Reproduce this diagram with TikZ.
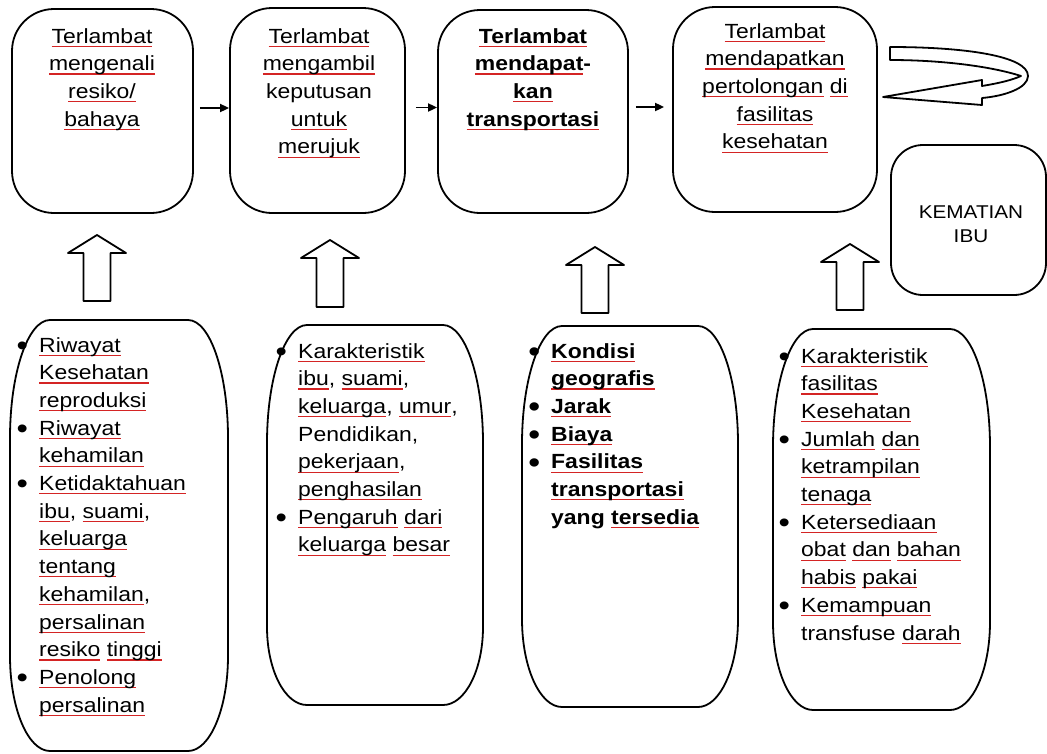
\documentclass[tikz,border=0pt]{standalone}
\usepackage{fontspec}
\setmainfont{Liberation Sans}[FakeStretch=1.12]
\usetikzlibrary{arrows.meta}

\definecolor{squig}{HTML}{D42424}
% word with a thin red underline
\newcommand\sq[1]{\leavevmode\setbox0=\hbox{#1}\rlap{\textcolor{squig}{\rule[-3.8pt]{\wd0}{1.1pt}}}\box0\relax}
\newcommand\bul{\makebox[21pt][l]{\hspace*{-1.5pt}\raisebox{-3.2pt}{\fontsize{29}{29}\selectfont •}}}
\newcommand\ind{\hspace*{21pt}}
\newcommand\bodyfont{\fontsize{20.5}{27.7}\selectfont}

% lower boxes: flat top and bottom, tall elliptical corners
% #1 x0, #2 y0, #3 x1, #4 y1, #5 bottom corner height
\newcommand\lowbox[5]{%
  \draw[boxline]
    (#1+40,#2) -- (#3-40,#2)
    .. controls (#3-17.9,#2) and (#3,#2+52.9) .. (#3,#2+118)
    -- (#3,#4-#5)
    .. controls (#3,#4-0.448*#5) and (#3-17.9,#4) .. (#3-40,#4)
    -- (#1+40,#4)
    .. controls (#1+17.9,#4) and (#1,#4-0.448*#5) .. (#1,#4-#5)
    -- (#1,#2+118)
    .. controls (#1,#2+52.9) and (#1+17.9,#2) .. (#1+40,#2) -- cycle;}

% hollow upward block arrow: #1 centre x, #2 tail y, #3 tip y
\newcommand\blockup[3]{%
  \draw[boxline, fill=white]
    (#1-13.5,#2) -- (#1-13.5,#3+18) -- (#1-29,#3+18) -- (#1,#3)
    -- (#1+29,#3+18) -- (#1+13.5,#3+18) -- (#1+13.5,#2) -- cycle;}

\tikzset{
  boxline/.style={draw=black, line width=1.8pt, line join=round},
  topbox/.style={boxline, rectangle, rounded corners=42pt, inner sep=0pt, fill=white},
  endbox/.style={boxline, rectangle, rounded corners=32pt, inner sep=0pt, fill=white},
  txt/.style={anchor=base, inner sep=0pt, font=\bodyfont},
  listtxt/.style={anchor=base west, inner sep=0pt, font=\bodyfont},
  conn/.style={line width=1.8pt, -{Triangle[length=9pt,width=8pt]}}
}

\begin{document}
\begin{tikzpicture}[x=1pt,y=-1pt]
\fill[white] (0,0) rectangle (1047,753);
\useasboundingbox (0,0) rectangle (1047,753);

% top row of delays
\node[topbox, minimum width=181pt, minimum height=204pt] (tb1) at (102.5,111) {};
\node[topbox, minimum width=175pt, minimum height=205pt] (tb2) at (317.5,110.5) {};
\node[topbox, minimum width=190pt, minimum height=203pt] (tb3) at (533,111.5) {};
\node[topbox, minimum width=204pt, minimum height=205pt] (tb4) at (775,109.5) {};
\node[endbox, minimum width=155pt, minimum height=150pt] (kb) at (968.5,220) {};

\node[txt] (tb1t) at (102,43) {\begin{tabular}[t]{@{}c@{}}
  \sq{Terlambat}\\ \sq{mengenali}\\ \sq{resiko/}\\ \sq{bahaya}\end{tabular}};
\node[txt] (tb2t) at (319,43) {\begin{tabular}[t]{@{}c@{}}
  \sq{Terlambat}\\ \sq{mengambil}\\ keputusan\\ \sq{untuk}\\ \sq{merujuk}\end{tabular}};
\node[txt, font=\bodyfont\bfseries] (tb3t) at (533,43) {\begin{tabular}[t]{@{}c@{}}
  \sq{Terlambat}\\ \sq{mendapat}-\\ \sq{kan}\\ \sq{transportasi}\end{tabular}};
\node[txt] (tb4t) at (775,38) {\begin{tabular}[t]{@{}c@{}}
  \sq{Terlambat}\\ \sq{mendapatkan}\\ \sq{pertolongan} \sq{di}\\ \sq{fasilitas}\\ \sq{kesehatan}\end{tabular}};
\node[txt, font=\fontsize{18.5}{24}\selectfont] (kbt) at (971,218) {\begin{tabular}[t]{@{}c@{}}
  KEMATIAN\\ IBU\end{tabular}};

% arrows between the delays
\draw[conn, shorten <=6pt] ([yshift=3pt]tb1.east) -- ([yshift=3pt]tb1.east -| tb2.west);
\draw[conn, shorten <=10pt] ([yshift=3pt]tb2.east) -- ([yshift=3pt]tb2.east -| tb3.west);
\draw[conn, shorten <=7pt, shorten >=8pt] ([yshift=4.5pt]tb3.east) -- ([yshift=4.5pt]tb3.east -| tb4.west);

% U-turn arrow
\draw[boxline, fill=white] (890,47) .. controls (965,47) and (1028,56) .. (1028,76)
  .. controls (1028,88) and (1005,96) .. (982,98)
  -- (982,105) -- (883,97) -- (982,80) -- (982,86)
  .. controls (1000,83) and (1012,80) .. (1021,76)
  .. controls (990,66) and (940,60) .. (890,60) -- cycle;

% hollow arrows pointing up
\blockup{97}{301}{235}
\blockup{330}{307}{240}
\blockup{595}{313}{247}
\blockup{850}{310}{244}

% lower boxes
\lowbox{10}{320}{228}{751}{95}
\lowbox{267}{325}{483}{705}{78}
\lowbox{522}{326}{738}{707}{88}
\lowbox{773}{329}{990}{710}{88}

\node[listtxt] (lb1t) at (18,352) {\begin{tabular}[t]{@{}l@{}}
  \bul\sq{Riwayat}\\
  \ind\sq{Kesehatan}\\
  \ind\sq{reproduksi}\\
  \bul\sq{Riwayat}\\
  \ind\sq{kehamilan}\\
  \bul\sq{Ketidaktahuan}\\
  \ind\sq{ibu}, \sq{suami},\\
  \ind\sq{keluarga}\\
  \ind\sq{tentang}\\
  \ind\sq{kehamilan},\\
  \ind\sq{persalinan}\\
  \ind\sq{resiko} \sq{tinggi}\\
  \bul\sq{Penolong}\\
  \ind\sq{persalinan}\end{tabular}};

\node[listtxt] (lb2t) at (277,358) {\begin{tabular}[t]{@{}l@{}}
  \bul\sq{Karakteristik}\\
  \ind\sq{ibu}, \sq{suami},\\
  \ind\sq{keluarga}, \sq{umur},\\
  \ind Pendidikan,\\
  \ind\sq{pekerjaan},\\
  \ind\sq{penghasilan}\\
  \bul\sq{Pengaruh} \sq{dari}\\
  \ind\sq{keluarga} \sq{besar}\end{tabular}};

\node[listtxt, font=\bodyfont\bfseries] (lb3t) at (530,358) {\begin{tabular}[t]{@{}l@{}}
  \bul\sq{Kondisi}\\
  \ind\sq{geografis}\\
  \bul\sq{Jarak}\\
  \bul\sq{Biaya}\\
  \bul\sq{Fasilitas}\\
  \ind\sq{transportasi}\\
  \ind yang \sq{tersedia}\end{tabular}};

\node[listtxt] (lb4t) at (780,363) {\begin{tabular}[t]{@{}l@{}}
  \bul\sq{Karakteristik}\\
  \ind\sq{fasilitas}\\
  \ind\sq{Kesehatan}\\
  \bul\sq{Jumlah} \sq{dan}\\
  \ind\sq{ketrampilan}\\
  \ind\sq{tenaga}\\
  \bul\sq{Ketersediaan}\\
  \ind\sq{obat} \sq{dan} \sq{bahan}\\
  \ind\sq{habis} \sq{pakai}\\
  \bul\sq{Kemampuan}\\
  \ind transfuse \sq{darah}\end{tabular}};
\end{tikzpicture}
\end{document}
